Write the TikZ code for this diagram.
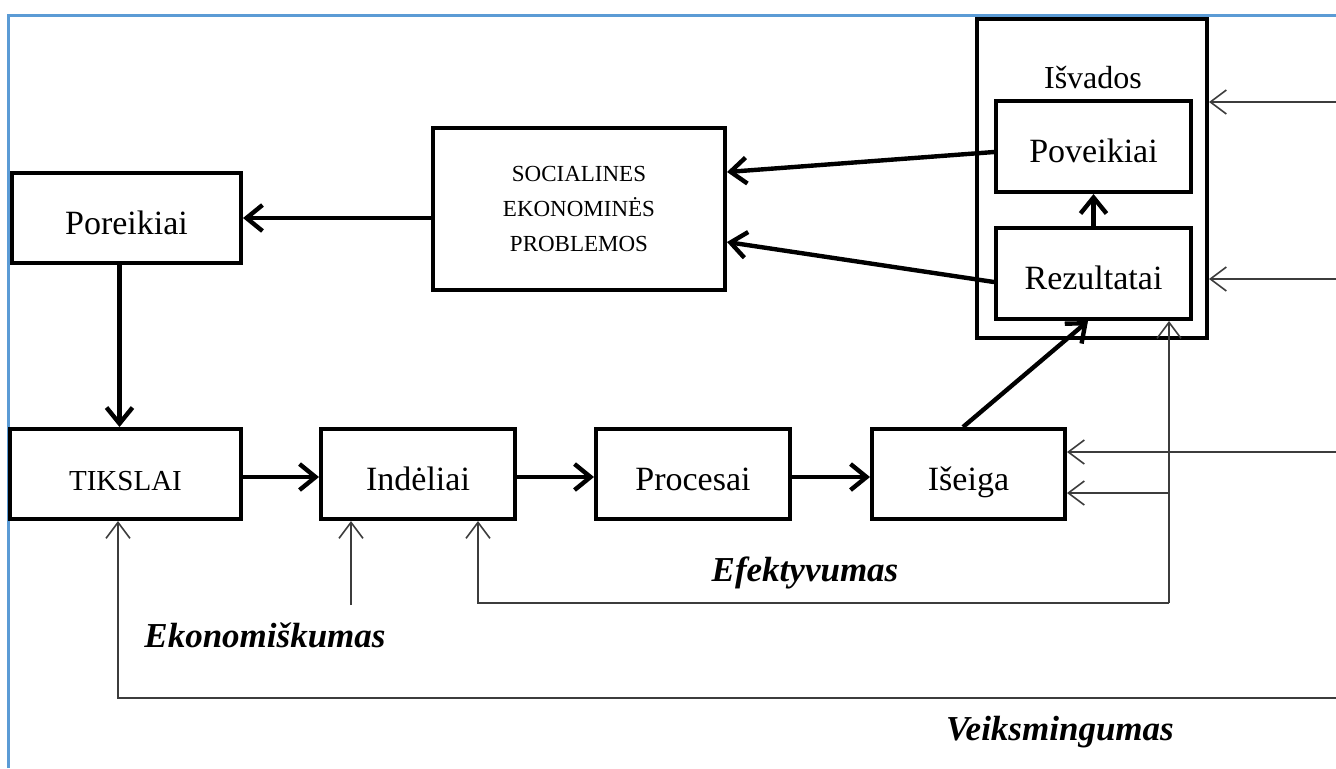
\documentclass[tikz,border=0pt]{standalone}
\usepackage{fontspec}
\setmainfont{Liberation Serif}
\usetikzlibrary{arrows.meta,calc}
\definecolor{frameblue}{RGB}{91,155,213}
\definecolor{thingray}{RGB}{60,60,60}
\tikzset{
  box/.style={draw=black,line width=2pt,rectangle,inner sep=0pt,align=center,
    font=\fontsize{17}{20}\selectfont},
  onebox/.style={box,text height=16pt,text depth=0pt},
  thick arrow/.style={draw=black,line width=2.2pt,
    -{Straight Barb[length=8pt,width=13pt,line width=2.2pt]}},
  thin arrow/.style={draw=thingray,line width=0.8pt,
    -{Straight Barb[length=8pt,width=12pt,line width=0.8pt]}},
  thin line/.style={draw=thingray,line width=0.8pt},
  lbl/.style={font=\fontsize{17.5}{20}\selectfont\bfseries\itshape,inner sep=0pt}
}
\begin{document}
\begin{tikzpicture}[x=0.5pt,y=-0.5pt]
\useasboundingbox (0,0) rectangle (1336,768);
% frame
\draw[frameblue,line width=1.5pt] (8,768) -- (8,15) -- (1336,15);

% boxes
\node[onebox,minimum width=114.5pt,minimum height=45pt] (por) at (126.5,218) {Poreikiai};
\node[box,minimum width=146pt,minimum height=81pt,
      font=\fontsize{11.5}{17.5}\selectfont] (soc) at (579,209)
      {SOCIALINES\\EKONOMINĖS\\PROBLEMOS};
\node[box,minimum width=115pt,minimum height=159.5pt] (isv) at (1092,178.5) {};
\node[inner sep=0pt,font=\fontsize{16}{18}\selectfont] (isvl) at (1093,78) {Išvados};
\node[onebox,minimum width=97.5pt,minimum height=45.5pt] (pov) at (1093.5,146.5) {Poveikiai};
\node[onebox,minimum width=97.5pt,minimum height=45.5pt] (rez) at (1093.5,273.5) {Rezultatai};
\node[onebox,minimum width=115.5pt,minimum height=45pt,
      font=\fontsize{14.5}{17}\selectfont] (tik) at (125.5,474) {TIKSLAI};
\node[onebox,minimum width=97pt,minimum height=45pt] (ind) at (418,474) {Indėliai};
\node[onebox,minimum width=97pt,minimum height=45pt] (pro) at (693,474) {Procesai};
\node[onebox,minimum width=96.5pt,minimum height=45pt] (ise) at (968.5,474) {Išeiga};

% thick arrows
\draw[thick arrow] (soc.west |- por.east) -- (por.east);
\draw[thick arrow] ([xshift=-3.5pt]por.south) -- ([xshift=-3.5pt]por.south |- tik.north);
\draw[thick arrow] ([yshift=-2.75pt]pov.west) -- ([yshift=18.5pt]soc.east);
\draw[thick arrow] ([yshift=-4.25pt]rez.west) -- ([yshift=-16.5pt]soc.east);
\draw[thick arrow] (rez.north) -- (pov.south);
\draw[thick arrow] ([yshift=-1.5pt]tik.east) -- ([yshift=-1.5pt]ind.west);
\draw[thick arrow] ([yshift=-1.5pt]ind.east) -- ([yshift=-1.5pt]pro.west);
\draw[thick arrow] ([yshift=-1.5pt]pro.east) -- ([yshift=-1.5pt]ise.west);
\draw[thick arrow] ([xshift=-2.75pt]ise.north) -- ([xshift=-2.75pt]rez.south);

% thin connectors
\coordinate (rA) at (1336,102);
\coordinate (rB) at (1336,279);
\coordinate (rC) at (1336,452);
\coordinate (rD) at (1336,698);
\coordinate (e1) at (1169,603);
\coordinate (e2) at (1169,493);
\coordinate (k1) at (351,605);

\draw[thin arrow] (rA) -- (isv.east |- rA);
\draw[thin arrow] (rB) -- (isv.east |- rB);
\draw[thin arrow] (rC) -- (ise.east |- rC);
\draw[thin arrow] (e1) -- (rez.south -| e1);
\draw[thin arrow] (e2) -- (ise.east |- e2);
\draw[thin arrow] (e1) -| ([xshift=30pt]ind.south);
\draw[thin arrow] (k1) -- (k1 |- ind.south);
\draw[thin arrow] (rD) -| ([xshift=-3.75pt]tik.south);

% labels
\node[lbl] (ekon) at (265,635) {Ekonomiškumas};
\node[lbl] (efek) at (805,573) {Efektyvumas};
\node[lbl] (veik) at (1060,732) {Veiksmingumas};
\end{tikzpicture}
\end{document}
